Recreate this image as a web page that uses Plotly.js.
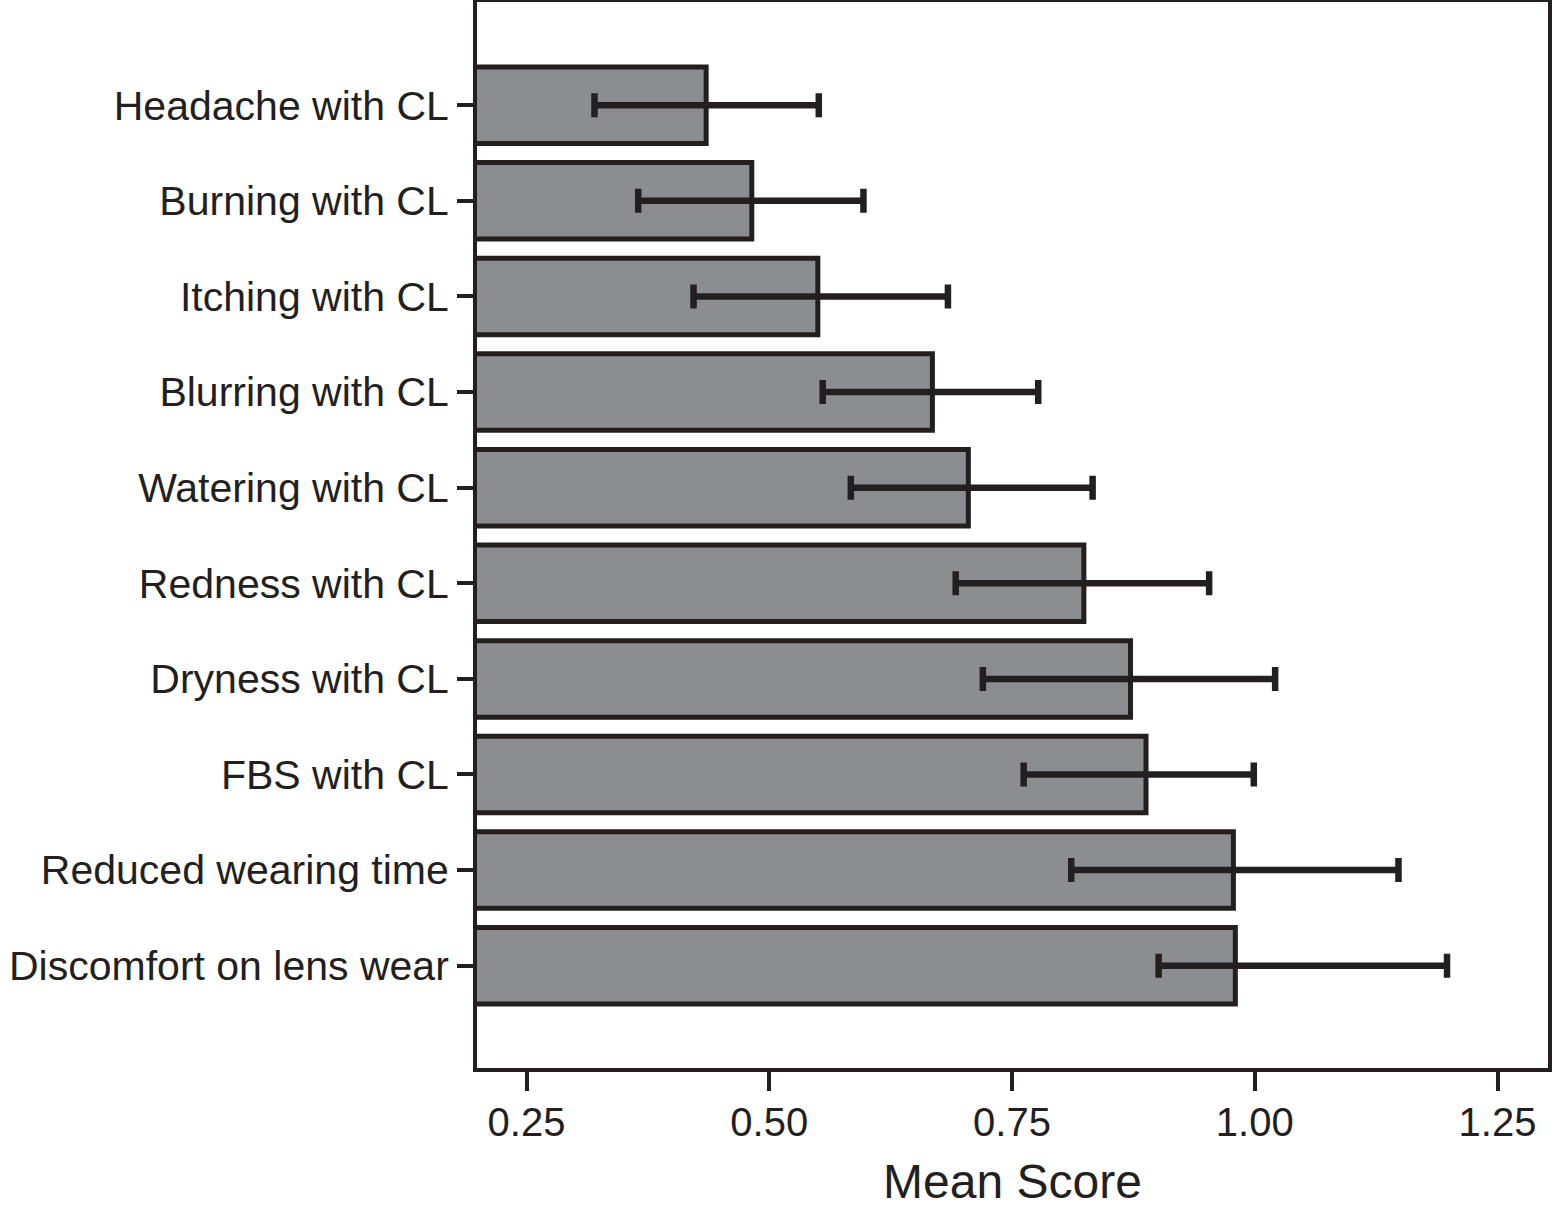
<!DOCTYPE html>
<html>
<head>
<meta charset="utf-8">
<script src="https://cdn.plot.ly/plotly-3.0.1.min.js"></script>
<style>
  html, body { margin: 0; padding: 0; background: #ffffff; }
  #chart { width: 1553px; height: 1222px; }
</style>
</head>
<body>
<div id="chart"></div>
<script>
// Categories, bottom to top as drawn
const categories = [
  "Discomfort on lens wear",
  "Reduced wearing time",
  "FBS with CL",
  "Dryness with CL",
  "Redness with CL",
  "Watering with CL",
  "Blurring with CL",
  "Itching with CL",
  "Burning with CL",
  "Headache with CL"
];
// Mean scores
const meanScore = [0.980, 0.978, 0.888, 0.872, 0.824, 0.705, 0.668, 0.550, 0.482, 0.435];
// Lower and upper ends of the error bars
const lowerCI = [0.901, 0.811, 0.762, 0.720, 0.692, 0.584, 0.555, 0.422, 0.365, 0.320];
const upperCI = [1.198, 1.148, 0.999, 1.021, 0.953, 0.833, 0.777, 0.684, 0.597, 0.551];
// x-axis ticks
const xTicks = [0.25, 0.50, 0.75, 1.00, 1.25];
const xTickLabels = ["0.25", "0.50", "0.75", "1.00", "1.25"];

const dark = "#231f20";
const fontFam = "'Liberation Sans', Arial, Helvetica, sans-serif";

const trace = {
  type: "bar",
  orientation: "h",
  y: categories,
  x: meanScore,
  marker: { color: "#8c8d91", line: { color: dark, width: 5 } },
  error_x: {
    type: "data",
    symmetric: false,
    array: upperCI.map((u, i) => u - meanScore[i]),
    arrayminus: lowerCI.map((l, i) => meanScore[i] - l),
    color: dark,
    thickness: 6.5,
    width: 12
  },
  hoverinfo: "skip"
};

const layout = {
  width: 1553,
  height: 1222,
  margin: { l: 477, r: 5, t: 2, b: 154 },
  paper_bgcolor: "#ffffff",
  plot_bgcolor: "#ffffff",
  showlegend: false,
  bargap: 0.2,
  font: { family: fontFam, color: dark },
  xaxis: {
    range: [0.199, 1.302],
    tickvals: xTicks,
    ticktext: xTickLabels,
    ticks: "outside",
    ticklen: 19,
    tickwidth: 4,
    tickcolor: dark,
    showline: true,
    linewidth: 4,
    linecolor: dark,
    mirror: true,
    showgrid: false,
    zeroline: false,
    ticklabelstandoff: -3,
    tickfont: { size: 40, color: dark, family: fontFam },
    title: { text: "Mean Score", font: { size: 48, color: dark, family: fontFam }, standoff: 22 }
  },
  yaxis: {
    type: "category",
    categoryorder: "array",
    categoryarray: categories,
    range: [-1.07, 10.08],
    ticks: "outside",
    ticklen: 16,
    tickwidth: 4,
    tickcolor: dark,
    showline: true,
    linewidth: 4,
    linecolor: dark,
    mirror: true,
    showgrid: false,
    zeroline: false,
    tickfont: { size: 41, color: dark, family: fontFam },
    automargin: false
  }
};

Plotly.newPlot("chart", [trace], layout, { staticPlot: true, displayModeBar: false });
</script>
</body>
</html>
